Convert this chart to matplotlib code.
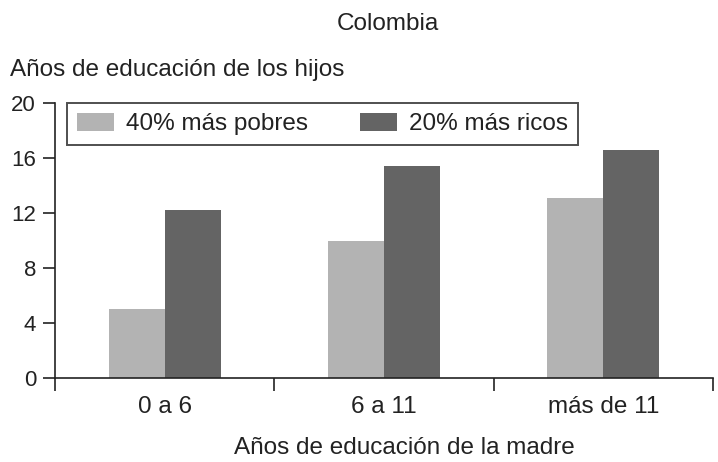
import matplotlib
matplotlib.use('Agg')
import matplotlib.pyplot as plt
import numpy as np

# datos
categorias = ['0 a 6', '6 a 11', 'más de 11']
pobres = [5.0, 10.0, 13.1]
ricos = [12.2, 15.4, 16.6]
yticks = [0, 4, 8, 12, 16, 20]

plt.rcParams['font.family'] = ['Liberation Sans', 'DejaVu Sans']
textcolor = '#222222'

fig = plt.figure(figsize=(7.18, 4.62), dpi=100)
W, H = 718.0, 462.0
ax = fig.add_axes([55 / W, 1 - 378 / H, 658 / W, 275 / H])

barwidth = 0.256
x = np.arange(len(categorias))
ax.bar(x - barwidth / 2, pobres, width=barwidth, color='#b3b3b3', label='40% más pobres')
ax.bar(x + barwidth / 2, ricos, width=barwidth, color='#646464', label='20% más ricos')

ax.set_xlim(-0.5, 2.5)
ax.set_ylim(0, 20)

for s in ['top', 'right']:
    ax.spines[s].set_visible(False)
for s in ['left', 'bottom']:
    ax.spines[s].set_linewidth(1.2)
    ax.spines[s].set_color('#222222')

ax.set_yticks(yticks)
ax.tick_params(axis='y', length=8.6, width=1.2, pad=5, labelsize=16, colors=textcolor)

# separadores de grupos como ticks mayores, nombres como ticks menores
ax.set_xticks([-0.5, 0.5, 1.5, 2.5])
ax.set_xticklabels([])
ax.set_xticks(x, minor=True)
ax.set_xticklabels(categorias, minor=True)
ax.tick_params(axis='x', which='major', length=9.4, width=1.2, colors='#222222')
ax.tick_params(axis='x', which='minor', length=0, pad=13, labelsize=17.5, labelcolor=textcolor)

leg = ax.legend(loc='upper left', bbox_to_anchor=(0.018, 1.0), ncol=2, fontsize=17.5,
                frameon=True, fancybox=False, borderaxespad=0, handlelength=1.52,
                handleheight=0.78, handletextpad=0.5, columnspacing=2.15,
                borderpad=0.4)
leg.get_frame().set_edgecolor('#222222')
leg.get_frame().set_linewidth(1.4)
for t in leg.get_texts():
    t.set_color(textcolor)

fig.text(388 / W, 1 - 30 / H, 'Colombia', ha='center', va='baseline', fontsize=17.5, color=textcolor)
fig.text(10 / W, 1 - 76 / H, 'Años de educación de los hijos', ha='left', va='baseline',
         fontsize=17.5, color=textcolor)
fig.text(404 / W, 1 - 454 / H, 'Años de educación de la madre', ha='center', va='baseline',
         fontsize=17.5, color=textcolor)

plt.savefig('out.png', dpi=100)
